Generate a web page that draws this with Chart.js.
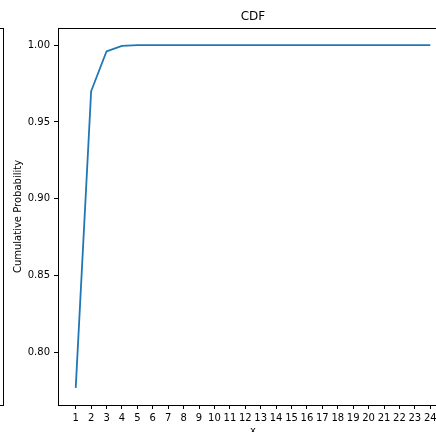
<!DOCTYPE html>
<html>
<head>
<meta charset="utf-8">
<script src="https://cdn.jsdelivr.net/npm/chart.js@4/dist/chart.umd.min.js"></script>
<style>
  html, body { margin: 0; padding: 0; background: #fff; overflow: hidden; }
  #wrap { position: relative; width: 436px; height: 432px; overflow: hidden; }
  #cdf { position: absolute; left: 0; top: 0; }
  /* edge of the neighbouring subplot */
  #prev { position: absolute; left: -20px; top: 28px; width: 22px; height: 376px; border: 1px solid #000; }
</style>
</head>
<body>
<div id="wrap">
  <div id="prev"></div>
  <canvas id="cdf" width="498" height="445"></canvas>
</div>
<script>
// cumulative probability per x
const xValues = [1, 2, 3, 4, 5, 6, 7, 8, 9, 10, 11, 12, 13, 14, 15, 16, 17, 18, 19, 20, 21, 22, 23, 24];
const cdfValues = [0.777, 0.970, 0.996, 0.9995, 0.99995, 1, 1, 1, 1, 1, 1, 1, 1, 1, 1, 1, 1, 1, 1, 1, 1, 1, 1, 1];
const yTicks = [0.80, 0.85, 0.90, 0.95, 1.00];

const titleText = 'CDF';
const xTitle = 'x';
const yTitle = 'Cumulative Probability';

const font = 'DejaVu Sans';

// matplotlib-style 5% margins around the data
const xPad = (xValues[xValues.length - 1] - xValues[0]) * 0.05;
const yMin = Math.min(...cdfValues), yMax = Math.max(...cdfValues);
const yPad = (yMax - yMin) * 0.05;

// closed frame around the plot area (top/right spines)
const frame = {
  id: 'frame',
  afterDraw(chart) {
    const {ctx, chartArea: a} = chart;
    ctx.save();
    ctx.strokeStyle = '#000';
    ctx.lineWidth = 1;
    ctx.strokeRect(Math.round(a.left) + 0.5, Math.round(a.top) + 0.5,
                   Math.round(a.right - a.left), Math.round(a.bottom - a.top));
    ctx.restore();
  }
};

const axisStyle = {
  border: { display: true, color: '#000', width: 1 },
  grid: { display: true, drawOnChartArea: false, drawTicks: true, tickLength: 4, color: '#000', lineWidth: 1 }
};

new Chart(document.getElementById('cdf'), {
  type: 'line',
  data: {
    datasets: [{
      data: xValues.map((x, i) => ({ x: x, y: cdfValues[i] })),
      borderColor: '#1f77b4',
      borderWidth: 1.8,
      borderJoinStyle: 'round',
      pointRadius: 0,
      tension: 0,
      fill: false
    }]
  },
  options: {
    responsive: false,
    animation: false,
    layout: { padding: { left: 0, top: 0, right: 50, bottom: 0 } },
    plugins: {
      legend: { display: false },
      tooltip: { enabled: false },
      title: {
        display: true,
        text: titleText,
        fullSize: false,
        color: '#000',
        font: { family: font, size: 12, weight: 'normal' },
        padding: { top: 10, bottom: 3.6 }
      }
    },
    scales: {
      x: {
        type: 'linear',
        min: xValues[0] - xPad,
        max: xValues[xValues.length - 1] + xPad,
        ...axisStyle,
        afterBuildTicks: s => { s.ticks = xValues.map(v => ({ value: v })); },
        afterFit: s => { s.height = 40; },
        ticks: {
          autoSkip: false,
          maxRotation: 0,
          padding: 3,
          color: '#000',
          font: { family: font, size: 10 },
          callback: v => String(v)
        },
        title: {
          display: true,
          text: xTitle,
          color: '#000',
          font: { family: font, size: 10 },
          padding: { top: 0, bottom: 8 }
        }
      },
      y: {
        type: 'linear',
        min: yMin - yPad,
        max: yMax + yPad,
        ...axisStyle,
        afterBuildTicks: s => { s.ticks = yTicks.map(v => ({ value: v })); },
        afterFit: s => { s.width = 58; },
        ticks: {
          padding: 4,
          color: '#000',
          font: { family: font, size: 10 },
          callback: v => Number(v).toFixed(2)
        },
        title: {
          display: true,
          text: yTitle,
          color: '#000',
          font: { family: font, size: 10 },
          padding: { top: 12, bottom: 0 }
        }
      }
    }
  },
  plugins: [frame]
});
</script>
</body>
</html>
